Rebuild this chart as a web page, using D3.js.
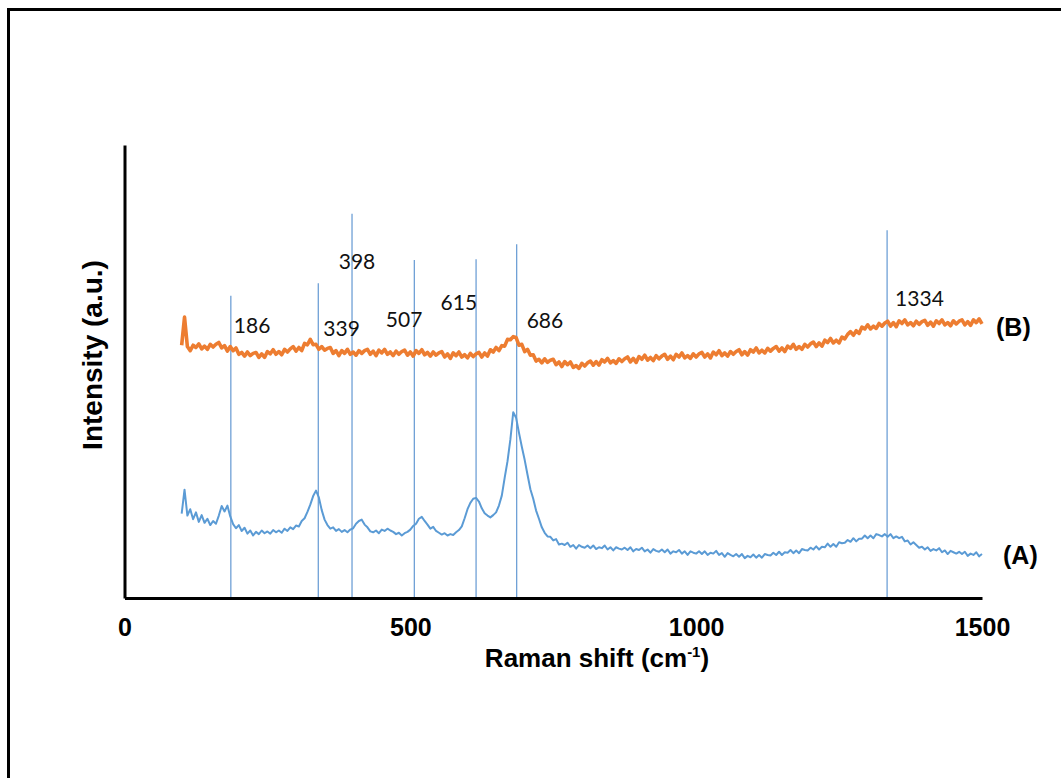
<!DOCTYPE html>
<html>
<head>
<meta charset="utf-8">
<script src="https://cdn.jsdelivr.net/npm/d3@7"></script>
<style>
  html, body { margin: 0; padding: 0; background: #fff; }
  svg { display: block; }
  .tick text { font-family: "Liberation Sans", Arial, sans-serif; font-weight: bold; }
</style>
</head>
<body>
<svg id="chart" width="1061" height="778"></svg>
<script>
// Raman shift sampling grid (cm-1)
const shiftStart = 100;
const shiftStep = 5;

// Spectrum (A), intensity in arbitrary units, one value per grid step
const spectrumA = [
  18.6, 23.9, 18.2, 19.6, 17.4, 18.9, 16.8, 18.3, 16.6, 17.5, 16.1, 17.0, 16.4, 18.2, 20.3, 19.1, 20.4, 18.0, 16.3, 15.4,
  16.1, 14.8, 15.5, 14.2, 14.9, 13.8, 14.6, 14.1, 14.9, 14.3, 14.7, 14.2, 15.0, 14.5, 14.9, 14.4, 15.3, 14.8, 15.6, 15.2,
  16.0, 15.8, 17.0, 17.6, 19.0, 20.6, 22.5, 23.7, 22.2, 19.4, 17.3, 16.1, 15.3, 15.6, 14.8, 15.2, 14.6, 15.0, 14.5, 15.1,
  15.4, 16.4, 17.0, 17.3, 16.2, 15.6, 14.7, 14.5, 14.9, 14.3, 15.1, 14.8, 15.3, 14.9, 14.6, 14.1, 14.4, 13.8, 14.3, 14.6,
  15.1, 15.9, 16.4, 17.5, 17.9, 17.0, 16.2, 15.3, 15.7, 14.8, 14.4, 14.0, 14.3, 13.8, 14.1, 13.9, 14.5, 15.0, 15.8, 17.6,
  19.6, 21.0, 21.9, 22.1, 21.3, 19.8, 18.7, 18.2, 17.8, 18.3, 18.9, 20.4, 22.6, 26.5, 30.2, 35.0, 41.0, 39.8, 36.5, 33.4,
  30.5, 27.2, 24.0, 21.9, 19.3, 17.5, 15.6, 14.4, 13.6,
  13.5, 12.7, 13.0, 11.8, 12.0, 11.7, 12.2, 11.3, 11.7, 10.9, 11.7, 11.3, 11.1, 11.6, 11.0, 11.6, 10.8, 11.2, 11.0, 11.6,
  10.7, 11.2, 10.5, 11.2, 10.9, 10.7, 11.1, 10.6, 11.2, 10.3, 10.8, 10.6, 11.1, 10.3, 10.7, 10.0, 10.8, 10.4, 10.2, 10.7,
  10.1, 10.7, 9.8, 10.3, 10.1, 10.6, 9.8, 10.3, 9.5, 10.3, 10.0, 9.8, 10.3, 9.7, 10.3, 9.5, 10.0, 9.8, 10.4, 9.5,
  9.9, 9.1, 9.9, 9.5, 9.2, 9.7, 9.1, 9.7, 8.8, 9.3, 9.0, 9.6, 8.9, 9.5, 8.9, 9.7, 9.5, 9.4, 10.0, 9.5,
  10.2, 9.5, 10.1, 10.0, 10.6, 9.9, 10.5, 9.9, 10.8, 10.6, 10.5, 11.1, 10.7, 11.4, 10.7, 11.3, 11.2, 12.0, 11.3, 11.9,
  11.3, 12.3, 12.1, 12.2, 12.8, 12.4, 13.2, 12.5, 13.1, 13.1, 13.8, 13.2, 13.8, 13.2, 14.1, 13.9, 13.6, 14.1, 13.5, 14.1,
  13.2, 13.6, 13.2, 13.5, 12.5, 12.7, 11.8, 12.3, 11.7, 11.1, 11.3, 10.7, 11.2, 10.4, 10.8, 10.5, 11.0, 10.1, 10.5, 9.7,
  10.4, 10.1, 9.8, 10.2, 9.7, 10.2, 9.3, 9.8, 9.5, 10.1, 9.2, 9.7
];

// Spectrum (B), intensity in arbitrary units, one value per grid step
const spectrumB = [
  55.8, 62.0, 55.5, 54.6, 55.8, 55.3, 56.1, 55.0, 55.6, 54.9, 56.0, 55.4, 56.0, 56.4, 55.2, 55.7, 54.5, 55.5, 54.6, 55.2,
  53.8, 54.2, 53.4, 54.3, 53.5, 54.0, 54.2, 53.1, 53.9, 53.1, 54.4, 53.9, 54.8, 53.8, 54.4, 53.7, 54.9, 54.3, 55.0, 55.5,
  54.5, 55.3, 54.6, 56.2, 55.9, 57.1, 55.9, 56.0, 54.9, 55.5, 54.7, 55.1, 55.3, 54.0, 54.6, 53.5, 54.6, 54.0, 54.9, 53.8,
  54.3, 53.6, 54.6, 54.0, 54.6, 54.9, 53.8, 54.5, 53.5, 54.7, 54.1, 54.9, 53.8, 54.3, 53.5, 54.5, 53.8, 54.4, 54.7, 53.6,
  54.3, 53.4, 54.6, 54.0, 54.8, 53.7, 54.2, 53.4, 54.3, 53.6, 54.1, 54.4, 53.2, 53.9, 52.9, 54.1, 53.5, 54.3, 53.2, 53.7,
  53.0, 54.0, 53.3, 53.9, 54.2, 53.2, 54.1, 53.4, 54.8, 54.3, 55.3, 54.6, 55.7, 55.6, 57.1, 57.0, 57.7, 57.5, 55.8, 56.0,
  54.4, 54.9, 53.6, 53.7, 52.3, 52.7, 51.9, 52.8, 52.0, 52.5, 52.7, 51.5, 52.1, 51.1, 52.2, 51.5, 52.1, 50.9, 51.3, 50.7,
  51.8, 51.2, 51.9, 52.3, 51.4, 52.2, 51.4, 52.6, 52.1, 52.9, 51.9, 52.4, 51.8, 52.8, 52.2, 52.8, 53.2, 52.1, 52.9, 52.0,
  53.3, 52.7, 53.6, 52.5, 53.1, 52.4, 53.5, 52.8, 53.4, 53.8, 52.7, 53.4, 52.6, 53.8, 53.2, 54.1, 53.0, 53.5, 52.9, 53.9,
  53.2, 53.9, 54.2, 53.2, 53.9, 53.0, 54.3, 53.7, 54.6, 53.5, 54.1, 53.4, 54.4, 53.8, 54.4, 54.8, 53.7, 54.4, 53.6, 54.8,
  54.3, 55.2, 54.1, 54.7, 54.1, 55.1, 54.5, 55.1, 55.5, 54.5, 55.2, 54.4, 55.6, 55.1, 56.0, 54.9, 55.5, 54.9, 56.0, 55.4,
  56.1, 56.5, 55.5, 56.3, 55.6, 56.9, 56.4, 57.3, 56.3, 56.9, 56.3, 57.6, 57.2, 58.2, 58.8, 58.0, 59.0, 58.4, 59.8, 59.4,
  60.3, 59.4, 60.0, 59.5, 60.6, 60.0, 60.7, 61.1, 60.0, 60.8, 59.9, 61.2, 60.6, 61.4, 60.3, 60.8, 60.1, 61.1, 60.4, 61.0,
  61.3, 60.2, 60.9, 60.0, 61.2, 60.6, 61.4, 60.3, 60.8, 60.1, 61.2, 60.5, 61.1, 61.4, 60.3, 61.0, 60.2, 61.4, 60.8, 61.6,
  60.5
];

// Marked band positions (cm-1), their labels and how high each marker reaches (a.u.)
const bandShifts = [186, 339, 398, 507, 615, 686, 1334];
const bandLabels = ["186", "339", "398", "507", "615", "686", "1334"];
const bandTops   = [66.7, 69.5, 84.8, 74.6, 74.8, 78.1, 81.2];

// Axis ticks and titles
const xTicks = [0, 500, 1000, 1500];
const seriesNames = ["(A)", "(B)"];

const svg = d3.select("#chart");

const x = d3.scaleLinear().domain([0, 1500]).range([124.5, 982]);
const y = d3.scaleLinear().domain([0, 100]).range([598, 145]);

// outer frame (top and left edges)
svg.append("path")
  .attr("d", "M8.5,778V9.5H1061")
  .attr("fill", "none")
  .attr("stroke", "#000")
  .attr("stroke-width", 3);

// label placement next to each band marker
const bandLayout = [
  { anchor: "start",  dx: 3,  base: 333 },
  { anchor: "start",  dx: 5,  base: 336 },
  { anchor: "middle", dx: 5,  base: 269 },
  { anchor: "end",    dx: 8,  base: 327 },
  { anchor: "end",    dx: 1,  base: 310 },
  { anchor: "start",  dx: 10, base: 328 },
  { anchor: "start",  dx: 8,  base: 306 }
];

// band marker lines
svg.append("g")
  .selectAll("line")
  .data(bandShifts)
  .join("line")
  .attr("x1", d => x(d))
  .attr("x2", d => x(d))
  .attr("y1", (d, i) => y(bandTops[i]))
  .attr("y2", y(0))
  .attr("stroke", "#6fa0d6")
  .attr("stroke-width", 1.3);

const lineGen = d3.line()
  .x((d, i) => x(shiftStart + i * shiftStep))
  .y(d => y(d));

svg.append("path")
  .datum(spectrumB)
  .attr("d", lineGen)
  .attr("fill", "none")
  .attr("stroke", "#ED7D31")
  .attr("stroke-width", 3.6)
  .attr("stroke-linejoin", "round");

svg.append("path")
  .datum(spectrumA)
  .attr("d", lineGen)
  .attr("fill", "none")
  .attr("stroke", "#5B9BD5")
  .attr("stroke-width", 2)
  .attr("stroke-linejoin", "round");

// band labels
svg.append("g")
  .selectAll("text")
  .data(bandLabels)
  .join("text")
  .attr("x", (d, i) => x(bandShifts[i]) + bandLayout[i].dx)
  .attr("y", (d, i) => bandLayout[i].base)
  .attr("text-anchor", (d, i) => bandLayout[i].anchor)
  .attr("font-family", "Lato, 'Open Sans', sans-serif")
  .attr("font-size", 21)
  .attr("fill", "#111")
  .text(d => d);

// axes
const xAxis = svg.append("g")
  .attr("transform", `translate(0,${y(0)})`)
  .call(d3.axisBottom(x).tickValues(xTicks).tickSize(0).tickPadding(20).tickFormat(d3.format("d")));
xAxis.select(".domain").attr("stroke", "#000").attr("stroke-width", 3);
xAxis.selectAll(".tick text").attr("font-size", 25).attr("fill", "#000").attr("dy", "0.71em");

const yAxis = svg.append("g")
  .attr("transform", `translate(${x(0)},0)`)
  .call(d3.axisLeft(y).tickValues([]).tickSize(0));
yAxis.select(".domain").attr("stroke", "#000").attr("stroke-width", 3);

// axis titles
const xTitle = svg.append("text")
  .attr("x", 597)
  .attr("y", 667)
  .attr("text-anchor", "middle")
  .attr("font-family", "'Liberation Sans', Arial, sans-serif")
  .attr("font-weight", "bold")
  .attr("font-size", 26)
  .attr("fill", "#000");
xTitle.append("tspan").text("Raman shift (cm");
xTitle.append("tspan").attr("dy", -10).attr("font-size", 15).text("-1");
xTitle.append("tspan").attr("dy", 10).text(")");

svg.append("text")
  .attr("transform", "translate(102,355) rotate(-90)")
  .attr("text-anchor", "middle")
  .attr("font-family", "'Liberation Sans', Arial, sans-serif")
  .attr("font-weight", "bold")
  .attr("font-size", 28)
  .attr("fill", "#000")
  .text("Intensity (a.u.)");

// series names at the right end of each trace
svg.append("g")
  .selectAll("text")
  .data(seriesNames)
  .join("text")
  .attr("x", (d, i) => i === 0 ? 1003 : 996)
  .attr("y", (d, i) => i === 0 ? 564 : 336)
  .attr("font-family", "'Liberation Sans', Arial, sans-serif")
  .attr("font-weight", "bold")
  .attr("font-size", 25)
  .attr("fill", "#000")
  .text(d => d);
</script>
</body>
</html>
